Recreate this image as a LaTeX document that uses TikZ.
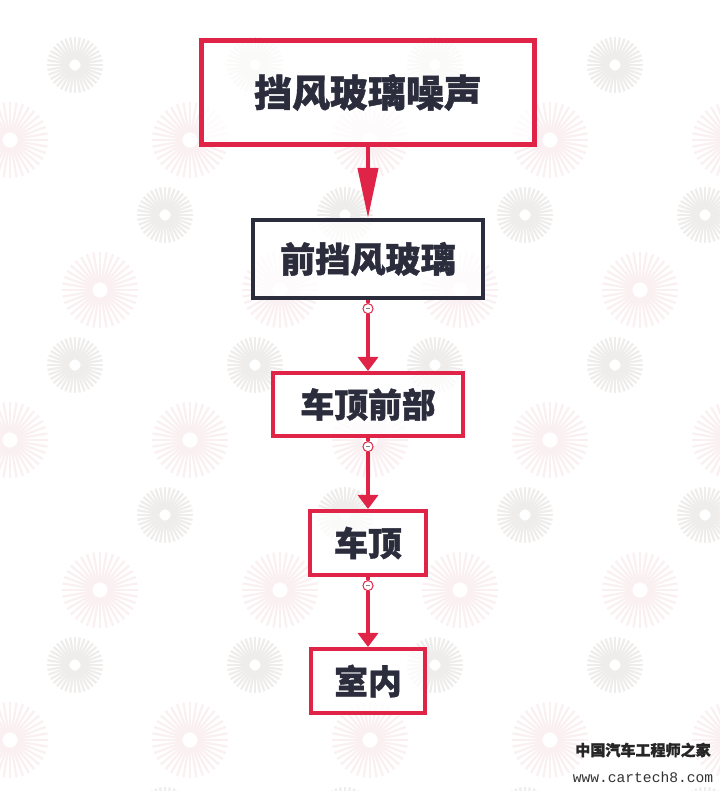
\documentclass[tikz,border=0pt]{standalone}
\usepackage{fontspec}
\newfontfamily\cjk{Noto Sans CJK SC}[BoldFeatures={FakeBold=1.2}]
\setmonofont{Liberation Mono}
\usepackage{tikz}
\usetikzlibrary{arrows.meta, positioning}
\definecolor{boxred}{RGB}{224,36,72}
\definecolor{inkdark}{RGB}{43,45,60}
\definecolor{burstgray}{RGB}{239,237,235}
\definecolor{burstpink}{RGB}{250,240,242}
\tikzset{
    stage/.style={draw=boxred, line width=2.85pt, fill=white, fill opacity=0.75,
        text opacity=1, text=inkdark, inner sep=0pt},
    flow/.style={draw=boxred, line width=2.85pt},
    collapse/.style={circle, draw=boxred, line width=0.6pt, fill=white,
        minimum size=0.25cm, inner sep=0pt,
        path picture={\draw[gray, line width=0.5pt]
            ([xshift=-0.06cm]path picture bounding box.center) --
            ([xshift=0.06cm]path picture bounding box.center);}}
}
% faint background burst
\newcommand\starburst[4]{%
    \foreach \a in {0,10,...,350}
        \draw[#4, line width=1.6pt, shift={(#1,#2)}] (\a:{#3*0.2}) -- (\a:#3);
}

\begin{document}
\begin{tikzpicture}[x=0.025cm, y=-0.025cm]
            \useasboundingbox[fill=white] (0,0) rectangle (720,791);
            % background pattern
            \begin{scope}
                \clip (0,0) rectangle (720,791);
                \foreach \row [evaluate=\row as \off using {90*mod(\row,2)}] in {0,...,5}
                \foreach \col in {0,...,4} {
                    \starburst{75+180*\col+\off}{65+150*\row}{28}{burstgray}
                    \starburst{10+180*\col+\off}{140+150*\row}{38}{burstpink}
                }
            \end{scope}

            % chain of boxes
            \node[stage, line width=3.55pt, minimum width=8.3cm, minimum height=2.6cm,
                font=\cjk\bfseries\fontsize{27pt}{30pt}\selectfont] (b1) at (368,92.5) {挡风玻璃噪声};
            \node[stage, draw=inkdark, minimum width=5.725cm, minimum height=1.95cm,
                font=\cjk\bfseries\fontsize{25pt}{28pt}\selectfont] (b2) at (368,259) {前挡风玻璃};
            \node[stage, minimum width=4.75cm, minimum height=1.575cm,
                font=\cjk\bfseries\fontsize{24pt}{27pt}\selectfont] (b3) at (368,404.5) {车顶前部};
            \node[stage, minimum width=2.9cm, minimum height=1.6cm,
                font=\cjk\bfseries\fontsize{24pt}{27pt}\selectfont] (b4) at (368,543) {车顶};
            \node[stage, minimum width=2.825cm, minimum height=1.6cm,
                font=\cjk\bfseries\fontsize{24pt}{27pt}\selectfont] (b5) at (368,681) {室内};

            \node[collapse, below=0.08cm of b2] (k2) {};
            \node[collapse, below=0.08cm of b3] (k3) {};
            \node[collapse, below=0.08cm of b4] (k4) {};

            \draw[flow, -{Triangle[length=1.25cm, width=0.5cm]}, boxred] (b1) -- (b2);
            \foreach \i/\j in {2/3, 3/4, 4/5} {
                \draw[flow] (b\i) -- (k\i);
                \draw[flow, -{Triangle[length=0.35cm, width=0.5cm]}, boxred] (k\i) -- (b\j);
            }
            \foreach \i in {2,3,4} \node[collapse] at (k\i) {};

            % watermark
            \node[font=\cjk\bfseries\fontsize{10.7pt}{12pt}\selectfont, text=black!85] (mark) at (643,750) {中国汽车工程师之家};
            \node[font=\ttfamily\fontsize{10.4pt}{12pt}\selectfont, text=black!80, below=0.12cm of mark] (url) {www.cartech8.com};
        \end{tikzpicture}
\end{document}
